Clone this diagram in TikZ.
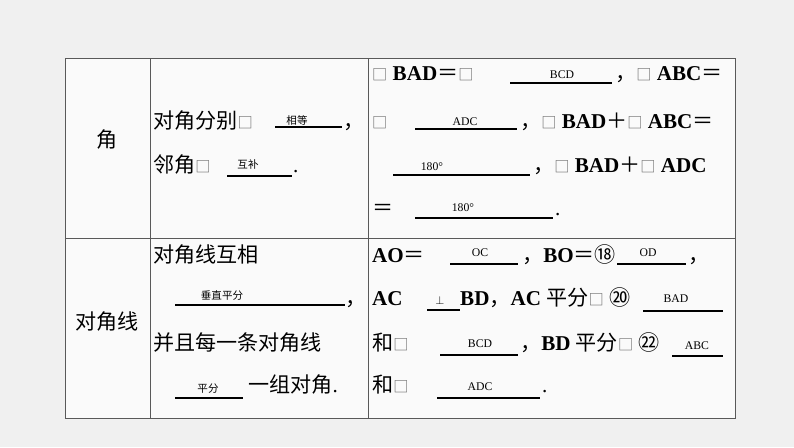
\documentclass[tikz,border=0pt]{standalone}
\usepackage{fontspec}
\setmainfont{Liberation Serif}
\newfontfamily\cjk{Noto Sans CJK SC}
\tikzset{big/.style={anchor=base west,inner sep=0pt,font=\fontsize{18}{20}\selectfont},
sm/.style={anchor=base,inner sep=0pt,font=\fontsize{10}{11}\selectfont},
ul/.style={line width=1.2pt}}
\newcommand{\B}[1]{\textbf{#1}}
\newcommand{\bx}{{\cjk\fontsize{13}{13}\selectfont\color{gray!80!black}□}}
\begin{document}
\begin{tikzpicture}[x=0.03cm,y=-0.03cm]
\fill[gray!12] (0,0) rectangle (794,447);
\fill[gray!4] (65,58) rectangle (735,418);
\draw[gray!70!black,line width=0.8pt] (65,58) rectangle (735,418) (150,58) -- (150,418) (368,58) -- (368,418) (65,238) -- (735,238);
% first row
\node[big,anchor=center] (jiao) at (107,140) {\cjk 角};
\node[big] (r1a) at (153,128) {{\cjk 对角分别}\bx};
\node[sm,font=\cjk\fontsize{9}{10}\selectfont] (xd) at (297,124) {相等};
\draw[ul] (275,127) -- (342,127); \node[big] at (343,128) {\cjk ，};
\node[big] (r1b) at (153,172) {{\cjk 邻角}\bx};
\node[sm,font=\cjk\fontsize{9}{10}\selectfont] (hb) at (248,168) {互补};
\draw[ul] (227,176) -- (292,176); \node[big] at (293,172) {.};
\node[big] at (372,80) {\bx{} \B{BAD}{\cjk ＝}\bx};
\node[sm] at (562,78) {BCD}; \draw[ul] (510,83) -- (612,83);
\node[big] at (615,80) {{\cjk ，}\bx{} \B{ABC}{\cjk ＝}};
\node[big] at (372,128) {\bx};
\node[sm] at (465,125) {ADC}; \draw[ul] (415,129) -- (517,129);
\node[big] at (520,128) {{\cjk ，}\bx{} \B{BAD}{\cjk ＋}\bx{} \B{ABC}{\cjk ＝}};
\node[sm] at (432,170) {180°}; \draw[ul] (393,175) -- (530,175);
\node[big] at (533,172) {{\cjk ，}\bx{} \B{BAD}{\cjk ＋}\bx{} \B{ADC}};
\node[big] at (372,215) {\cjk ＝};
\node[sm] at (463,211) {180°}; \draw[ul] (415,218) -- (553,218);
\node[big] at (555,215) {.};
% second row
\node[big,anchor=center] (djx) at (107,322) {\cjk 对角线};
\node[big] at (153,262) {\cjk 对角线互相};
\node[sm,font=\cjk\fontsize{9}{10}\selectfont] at (222,299) {垂直平分};
\draw[ul] (175,305) -- (345,305); \node[big] at (345,305) {\cjk ，};
\node[big] at (153,350) {\cjk 并且每一条对角线};
\node[sm,font=\cjk\fontsize{9}{10}\selectfont] at (208,392) {平分};
\draw[ul] (175,398) -- (243,398); \node[big] at (248,392) {{\cjk 一组对角}.};
\node[big] at (372,262) {\B{AO}{\cjk ＝}};
\node[sm] at (480,256) {OC}; \draw[ul] (450,264) -- (518,264);
\node[big] at (522,262) {{\cjk ，}\B{BO}{\cjk ＝⑱}};
\node[sm] at (648,256) {OD}; \draw[ul] (617,264) -- (686,264);
\node[big] at (688,262) {\cjk ，};
\node[big] at (372,305) {\B{AC}};
\node[sm] at (440,304) {$\perp$}; \draw[ul] (427,310) -- (460,310);
\node[big] at (460,305) {\B{BD}{\cjk ，}\B{AC} {\cjk 平分}\bx{} {\cjk ⑳}};
\node[sm] at (676,302) {BAD}; \draw[ul] (643,311) -- (723,311);
\node[big] at (372,350) {{\cjk 和}\bx};
\node[sm] at (480,347) {BCD}; \draw[ul] (440,355) -- (518,355);
\node[big] at (520,350) {{\cjk ，}\B{BD} {\cjk 平分}\bx{} {\cjk ㉒}};
\node[sm] at (697,349) {ABC}; \draw[ul] (672,356) -- (723,356);
\node[big] at (372,392) {{\cjk 和}\bx};
\node[sm] at (480,390) {ADC}; \draw[ul] (437,398) -- (540,398);
\node[big] at (542,392) {.};
\end{tikzpicture}
\end{document}
